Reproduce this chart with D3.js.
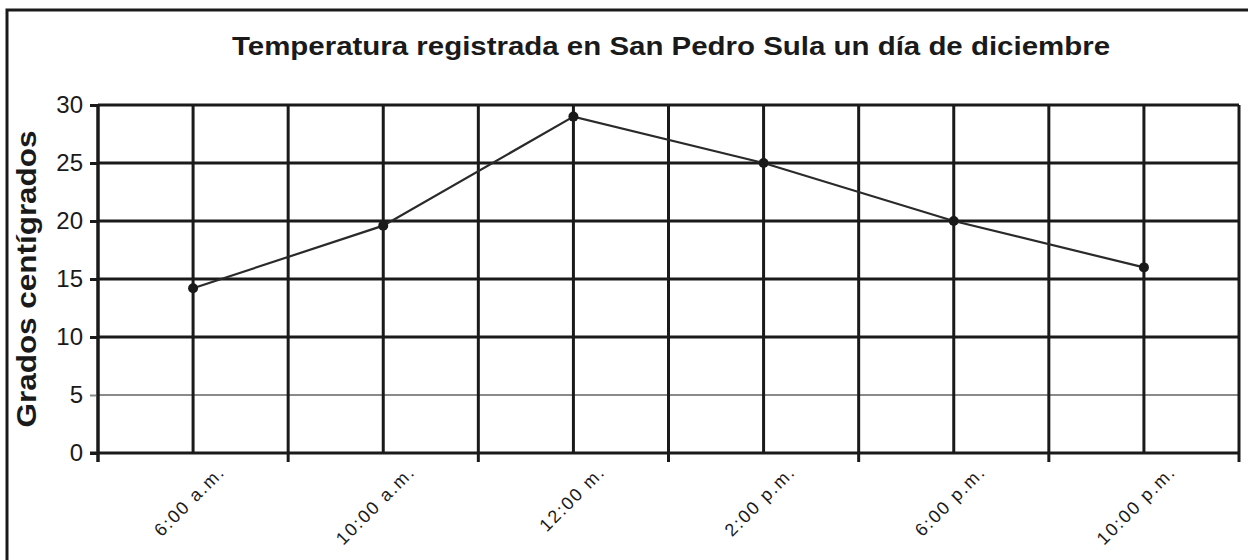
<!DOCTYPE html>
<html>
<head>
<meta charset="utf-8">
<script src="https://cdn.jsdelivr.net/npm/d3@7"></script>
<style>
  html, body { margin: 0; padding: 0; background: #fff; }
  svg { display: block; }
  text { font-family: "Liberation Sans", Arial, sans-serif; fill: #1a1a1a; }
</style>
</head>
<body>
<svg id="chart" width="1248" height="560"></svg>
<script>
// Temperature readings through one December day in San Pedro Sula
const hours = ["6:00 a.m.", "10:00 a.m.", "12:00 m.", "2:00 p.m.", "6:00 p.m.", "10:00 p.m."];
const temps = [14.2, 19.6, 29, 25, 20, 16];
const yTicks = [0, 5, 10, 15, 20, 25, 30];
const titleText = "Temperatura registrada en San Pedro Sula un día de diciembre";
const yLabel = "Grados centígrados";

const svg = d3.select("#chart");
const ink = "#1a1a1a";

const plot = { left: 98, right: 1239, top: 105, bottom: 453 };

const x = d3.scaleBand().domain(hours).range([plot.left, plot.right]).padding(0);
const y = d3.scaleLinear().domain([0, 30]).range([plot.bottom, plot.top]);
const cx = d => x(d) + x.bandwidth() / 2;

// outer frame (top and left edges)
svg.append("path")
  .attr("d", "M7,562 L7,10 L1250,10")
  .attr("fill", "none").attr("stroke", ink).attr("stroke-width", 3);

// title
svg.append("text")
  .attr("x", 671).attr("y", 55)
  .attr("text-anchor", "middle")
  .attr("font-size", 25).attr("font-weight", "bold")
  .attr("fill", "#222")
  .attr("textLength", 878).attr("lengthAdjust", "spacingAndGlyphs")
  .text(titleText);

// y axis title
svg.append("text")
  .attr("transform", "translate(36,279) rotate(-90)")
  .attr("text-anchor", "middle")
  .attr("font-size", 28).attr("font-weight", "bold")
  .attr("fill", "#222")
  .attr("textLength", 297).attr("lengthAdjust", "spacingAndGlyphs")
  .text(yLabel);

// horizontal gridlines
svg.append("g").selectAll("line").data(yTicks.filter(v => v > 0)).join("line")
  .attr("x1", plot.left).attr("x2", plot.right)
  .attr("y1", d => y(d)).attr("y2", d => y(d))
  .attr("stroke", d => d === 5 ? "#8a8a8a" : ink)
  .attr("stroke-width", d => d === 5 ? 2 : 3);

// vertical gridlines: category boundaries and centres
const vLines = [];
hours.forEach(h => { vLines.push(x(h)); vLines.push(cx(h)); });
vLines.push(plot.right);
svg.append("g").selectAll("line").data(vLines).join("line")
  .attr("x1", d => d).attr("x2", d => d)
  .attr("y1", plot.top).attr("y2", plot.bottom)
  .attr("stroke", ink).attr("stroke-width", 3);

// y axis
const yAxis = svg.append("g")
  .attr("transform", `translate(${plot.left},0)`)
  .call(d3.axisLeft(y).tickValues(yTicks).tickSize(8).tickPadding(7));
yAxis.select(".domain").remove();
yAxis.selectAll(".tick line").attr("stroke", ink).attr("stroke-width", 3);
yAxis.selectAll(".tick line").filter(d => d === 5).attr("stroke", "#8a8a8a").attr("stroke-width", 2);
yAxis.selectAll(".tick text")
  .attr("font-size", 24).attr("fill", "#3a3a3a")
  .style("font-family", "'Liberation Sans', Arial, sans-serif");
svg.append("line")
  .attr("x1", plot.left).attr("x2", plot.left)
  .attr("y1", plot.top).attr("y2", plot.bottom + 9)
  .attr("stroke", ink).attr("stroke-width", 3);

// x axis with ticks at category boundaries
const bounds = hours.map(h => x(h)).concat([plot.right]);
svg.append("line")
  .attr("x1", plot.left - 8).attr("x2", plot.right + 1)
  .attr("y1", plot.bottom).attr("y2", plot.bottom)
  .attr("stroke", ink).attr("stroke-width", 3);
svg.append("g").selectAll("line").data(bounds).join("line")
  .attr("x1", d => d).attr("x2", d => d)
  .attr("y1", plot.bottom).attr("y2", plot.bottom + 9)
  .attr("stroke", ink).attr("stroke-width", 3);

// rotated category labels
svg.append("g").selectAll("text").data(hours).join("text")
  .attr("transform", d => `translate(${cx(d) + 33},${plot.bottom + 20}) rotate(-45)`)
  .attr("text-anchor", "end")
  .attr("font-size", 18).attr("fill", "#333")
  .attr("letter-spacing", 1.8)
  .text(d => d);

// temperature line and markers
const pts = hours.map((h, i) => [cx(h), y(temps[i])]);
svg.append("path")
  .attr("d", d3.line()(pts))
  .attr("fill", "none").attr("stroke", "#2a2a2a").attr("stroke-width", 2.2);
svg.append("g").selectAll("circle").data(pts).join("circle")
  .attr("cx", d => d[0]).attr("cy", d => d[1]).attr("r", 5)
  .attr("fill", ink);
</script>
</body>
</html>
